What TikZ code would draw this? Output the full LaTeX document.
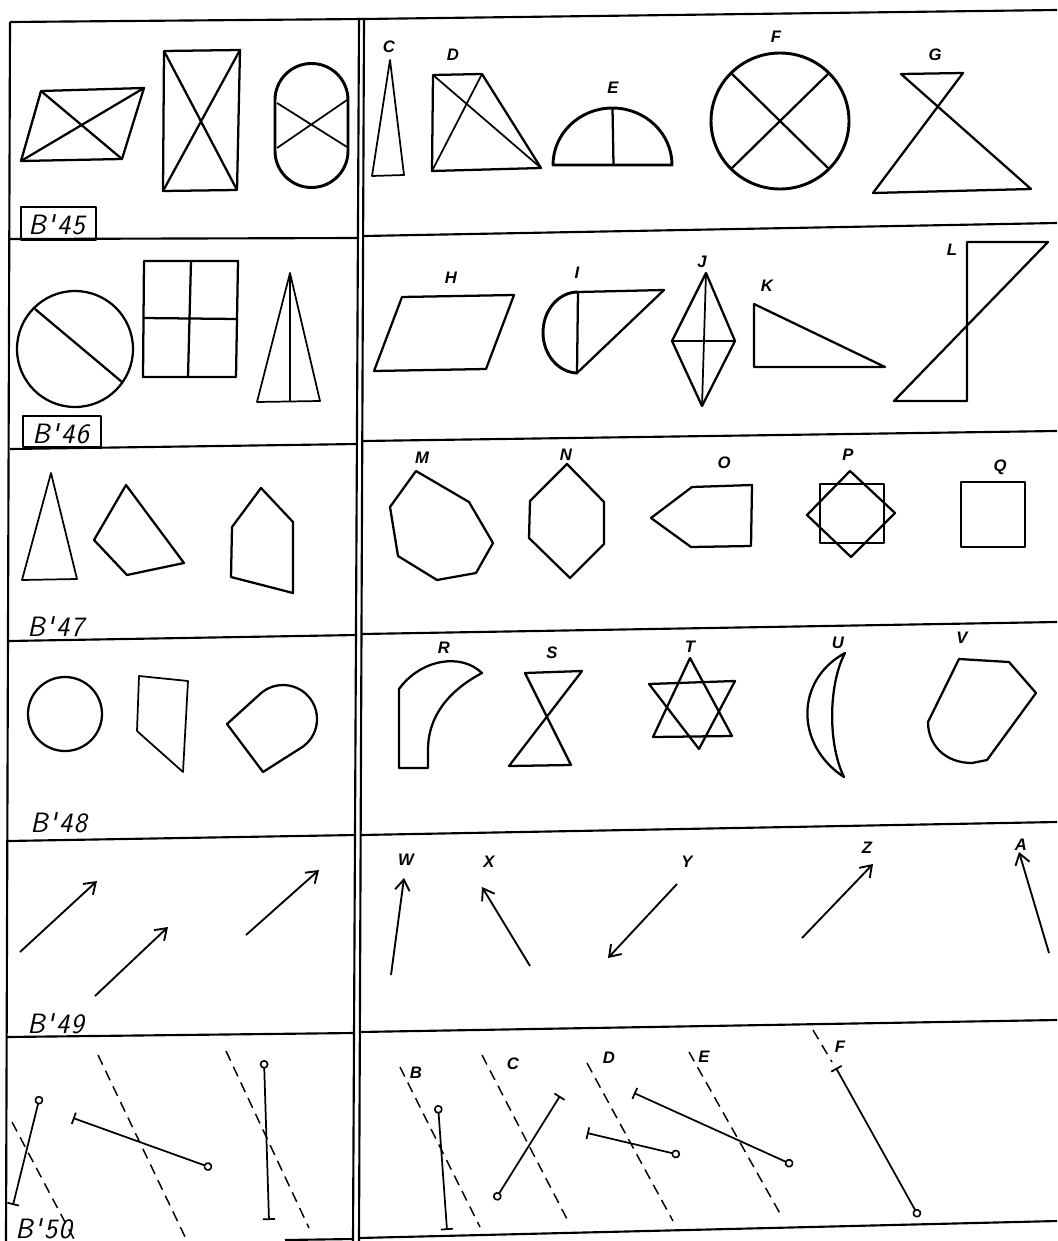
\documentclass[tikz,border=0pt]{standalone}
\usepackage{fontspec}
\newfontfamily\labfont{Liberation Sans}
\usetikzlibrary{arrows.meta}
\begin{document}
\begin{tikzpicture}[x=0.75pt,y=-0.75pt,
  frame/.style={line width=1.6pt},
  shp/.style={line width=1.7pt, line join=round},
  thk/.style={line width=2.2pt, line join=round},
  thn/.style={line width=1.3pt, line join=round},
  lab/.style={font=\labfont\bfseries\itshape\fontsize{12.5}{14}\selectfont, inner sep=0pt},
  blab/.style={font=\sffamily\itshape\fontsize{21}{24}\selectfont, inner sep=0pt, anchor=base west},
  arr/.style={line width=1.4pt, -{Straight Barb[length=8pt,width=11pt,line width=1.4pt]}},
  seg/.style={line width=1.3pt, {Bar[width=9pt,line width=1.3pt]}-{Circle[open,length=6.5pt,width=6.5pt,line width=1.2pt]}},
  dsh/.style={line width=1.1pt, dash pattern=on 8pt off 5pt}
]
\useasboundingbox (0,0) rectangle (1057,1241);
% ---------------- frame ----------------
\draw[frame] (10,22) -- (364,19) -- (1057,10);
\draw[frame] (10,22) -- (6,1241);
\draw[frame] (359,18) -- (353,1241);
\draw[frame] (364,18) -- (359,1241);
\draw[frame] (10,239) -- (359,238);  \draw[frame] (364,236) -- (1057,223);
\draw[frame] (10,449) -- (358,444);  \draw[frame] (363,441) -- (1057,431);
\draw[frame] (9,641) -- (357,635);   \draw[frame] (362,634) -- (1057,622);
\draw[frame] (8,841) -- (356,835);   \draw[frame] (361,835) -- (1057,822);
\draw[frame] (7,1037) -- (354,1033); \draw[frame] (359,1032) -- (1057,1020);
\draw[frame] (285,1240) -- (354,1239); \draw[frame] (359,1238) -- (1057,1221);
% ---------------- row 1 ----------------
\draw[shp] (41,91) -- (144,88) -- (122,159) -- (21,161) -- cycle;
\draw[shp] (41,91) -- (122,159) (144,88) -- (21,161);
\draw[shp] (164,51) -- (240,50) -- (237,190) -- (163,191) -- cycle;
\draw[shp] (164,51) -- (237,190) (240,50) -- (163,191);
\draw[thk] (348,100) arc[start angle=0,end angle=-180,radius=36.5] -- (275,151) arc[start angle=180,end angle=0,radius=36.5] -- cycle;
\draw[thn] (277,103) -- (347,147) (277,148) -- (347,100);
\draw[thn] (21,207) rectangle (96,240);
\node[blab] (b45) at (28,235) {B\kern1pt\textquotesingle\kern2pt4\kern1pt5};
\node[lab] (lC) at (389,47) {C};
\draw[thn] (390,60) -- (404,175) -- (372,176) -- cycle;
\node[lab] (lD) at (453,55) {D};
\draw[shp] (433,75) -- (482,74) -- (541,168) -- (432,171) -- cycle;
\draw[thn] (433,75) -- (541,168) (482,74) -- (432,171);
\node[lab] (lE) at (613,88) {E};
\draw[thk] (553,165) arc[start angle=180,end angle=360,x radius=59.5,y radius=57] -- cycle;
\draw[shp] (612.5,108) -- (613.5,165);
\node[lab] (lF) at (776,37) {F};
\draw[thk] (780,121) ellipse[x radius=69,y radius=68];
\draw[shp] (731,73) -- (829,169) (829,73) -- (731,169);
\node[lab] (lG) at (935,55) {G};
\draw[shp] (901,74) -- (963,73) -- (873,193) -- (1031,189) -- cycle;
% ---------------- row 2 ----------------
\draw[shp] (75,349) circle[radius=58];
\draw[shp] (35,309) -- (122,382);
\draw[shp] (144,261) -- (238,261) -- (236,377) -- (143,377) -- cycle;
\draw[shp] (191,261) -- (188,377) (143,318) -- (237,319);
\draw[thn] (290,273) -- (320,401) -- (257,402) -- cycle;
\draw[thn] (290,273) -- (290,401);
\draw[thn] (23,416) rectangle (101,447);
\node[blab] (b46) at (32,443) {B\kern1pt\textquotesingle\kern2pt4\kern1pt6};
\node[lab] (lH) at (451,278) {H};
\draw[shp] (402,297) -- (514,295) -- (486,369) -- (374,371) -- cycle;
\node[lab] (lI) at (577,273) {I};
\draw[shp] (578,292) -- (664,290) -- (577,373);
\draw[thk] (578,292) arc[start angle=-90,end angle=-270,x radius=35,y radius=40.5];
\draw[shp] (578,292) -- (577,373);
\node[lab] (lJ) at (702,262) {J};
\draw[shp] (706,273) -- (735,341) -- (702,406) -- (672,341) -- cycle;
\draw[thn] (706,273) -- (702,406) (672,341) -- (735,341);
\node[lab] (lK) at (767,286) {K};
\draw[shp] (754,304) -- (885,367) -- (754,367) -- cycle;
\node[lab] (lL) at (952,250) {L};
\draw[shp] (967,242) -- (1048,242) -- (894,401) -- (967,401) -- cycle;
% ---------------- row 3 ----------------
\draw[thn] (51,473) -- (77,579) -- (22,580) -- cycle;
\draw[shp] (126,485) -- (184,563) -- (127,575) -- (94,540) -- cycle;
\draw[shp] (261,488) -- (293,522) -- (293,593) -- (231,577) -- (232,527) -- cycle;
\node[blab] (b47) at (27,636) {B\kern1pt\textquotesingle\kern2pt4\kern1pt7};
\node[lab] (lM) at (422,458) {M};
\draw[shp] (416,471) -- (469,502) -- (493,543) -- (476,573) -- (437,580) -- (398,556) -- (390,507) -- cycle;
\node[lab] (lN) at (566,455) {N};
\draw[shp] (567,464) -- (604,502) -- (604,544) -- (570,578) -- (529,538) -- (530,501) -- cycle;
\node[lab] (lO) at (724,463) {O};
\draw[shp] (692,487) -- (752,485) -- (751,546) -- (691,547) -- (651,518) -- cycle;
\node[lab] (lP) at (848,455) {P};
\draw[shp] (820,484) rectangle (884,543);
\draw[shp] (850,471) -- (895,513) -- (851,557) -- (807,515) -- cycle;
\node[lab] (lQ) at (1000,467) {Q};
\draw[shp] (961,482) rectangle (1025,547);
% ---------------- row 4 ----------------
\draw[shp] (65,714) circle[radius=37];
\draw[thn] (139,676) -- (188,681) -- (183,772) -- (137,731) -- cycle;
\draw[shp] (227,724) -- (259,695) arc[start angle=225,end angle=420,radius=34] -- (263,772) -- cycle;
\node[blab] (b48) at (30,832) {B\kern1pt\textquotesingle\kern2pt4\kern1pt8};
\node[lab] (lR) at (444,648) {R};
\draw[shp] (399,689) .. controls (420,660) and (460,652) .. (482,673) .. controls (450,690) and (428,715) .. (428,750) -- (428,768) -- (399,768) -- cycle;
\node[lab] (lS) at (552,653) {S};
\draw[shp] (525,673) -- (582,671) -- (509,766) -- (571,765) -- cycle;
\node[lab] (lT) at (690,647) {T};
\draw[shp] (690,658) -- (732,736) -- (653,737) -- cycle;
\draw[shp] (649,684) -- (735,681) -- (699,749) -- cycle;
\node[lab] (lU) at (838,643) {U};
\draw[shp] (845,653) .. controls (795,680) and (795,745) .. (844,777) .. controls (828,745) and (828,685) .. (845,653) -- cycle;
\node[lab] (lV) at (962,638) {V};
\draw[shp] (959,659) -- (1009,662) -- (1036,693) -- (987,760) -- (972,763) .. controls (945,763) and (928,745) .. (928,722) -- cycle;
% ---------------- row 5 ----------------
\draw[arr] (20,952) -- (97,881);
\draw[arr] (95,996) -- (168,927);
\draw[arr] (246,935) -- (319,870);
\node[blab] (b49) at (27,1033) {B\kern1pt\textquotesingle\kern2pt4\kern1pt9};
\node[lab] (lW) at (406,860) {W};
\draw[arr] (391,975) -- (404,878);
\node[lab] (lX) at (489,862) {X};
\draw[arr] (530,966) -- (482,887);
\node[lab] (lY) at (687,862) {Y};
\draw[arr] (677,884) -- (608,958);
\node[lab] (lZ) at (867,848) {Z};
\draw[arr] (802,938) -- (873,864);
\node[lab] (lA) at (1021,845) {A};
\draw[arr] (1049,953) -- (1019,852);
% ---------------- row 6 ----------------
\draw[dsh] (12,1122) -- (75,1241);
\draw[dsh] (98,1055) -- (187,1241);
\draw[dsh] (226,1051) -- (309,1228);
\draw[seg] (13,1205) -- (40,1096);
\draw[seg] (73,1118) -- (212,1168);
\draw[seg] (269,1220) -- (264,1060);
\node[blab] (b50) at (15,1238) {B\kern1pt\textquotesingle\kern2pt5\kern1pt0};
\node[lab] (lB2) at (416,1073) {B};
\draw[dsh] (400,1067) -- (480,1227);
\draw[seg] (447,1230) -- (438,1105);
\node[lab] (lC2) at (513,1064) {C};
\draw[dsh] (482,1055) -- (568,1221);
\draw[seg] (560,1096) -- (495,1200);
\node[lab] (lD2) at (609,1058) {D};
\draw[dsh] (587,1063) -- (673,1221);
\draw[seg] (587,1133) -- (680,1155);
\node[lab] (lE2) at (704,1057) {E};
\draw[dsh] (689,1052) -- (782,1217);
\draw[seg] (634,1093) -- (793,1165);
\node[lab] (lF2) at (840,1047) {F};
\draw[dsh] (813,1030) -- (832,1062);
\draw[seg] (836,1068) -- (919,1217);
\end{tikzpicture}
\end{document}
